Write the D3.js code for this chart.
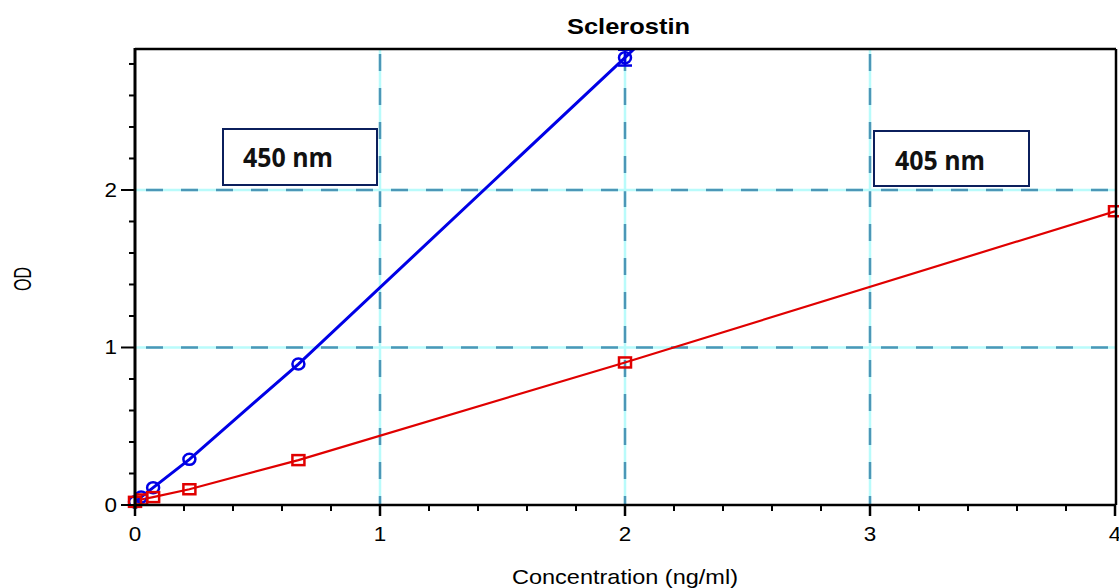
<!DOCTYPE html>
<html><head><meta charset="utf-8">
<script src="https://cdn.jsdelivr.net/npm/d3@7"></script>
<style>body{margin:0;background:#fff;} svg{display:block;}</style>
</head><body>
<svg id="c" width="1119" height="588"></svg>
<script>
// Data
const concentrations = [0, 0.025, 0.074, 0.222, 0.667, 2, 4];
const od450 = [0.02, 0.05, 0.11, 0.29, 0.895, 2.84];           // blue, 450 nm (first 6 concentrations)
const od450Err = [0, 0, 0, 0, 0, 0.05];
const od405 = [0.02, 0.035, 0.05, 0.10, 0.285, 0.905, 1.865];   // red, 405 nm
const fit450X = [0, 0.025, 0.074, 0.222, 0.667, 2, 2.06];
const fit450Y = [0.02, 0.05, 0.11, 0.29, 0.895, 2.84, 2.93];
const xTicks = [0, 1, 2, 3, 4];
const yTicks = [0, 1, 2];
const labels = ["450 nm", "405 nm"];

const svg = d3.select("#c");
const L = 135, R = 1115, T = 49, B = 505;
const x = d3.scaleLinear().domain([0, 4]).range([L, R]);
const y = d3.scaleLinear().domain([0, 2.895]).range([B, T]);

svg.append("defs").append("clipPath").attr("id", "clip")
  .append("rect").attr("x", L).attr("y", T).attr("width", R - L).attr("height", B - T);

// grid lines
const grid = svg.append("g");
[1, 2, 3].forEach(v => {
  grid.append("line").attr("x1", x(v)).attr("x2", x(v)).attr("y1", T).attr("y2", B)
    .attr("stroke", "#b9fbfb").attr("stroke-width", 2.5);
  grid.append("line").attr("x1", x(v)).attr("x2", x(v)).attr("y1", B).attr("y2", T)
    .attr("stroke", "#4b97b7").attr("stroke-width", 2.5).attr("stroke-dasharray", "17,17").attr("stroke-dashoffset", 8);
});
[1, 2].forEach(v => {
  grid.append("line").attr("x1", L).attr("x2", R).attr("y1", y(v)).attr("y2", y(v))
    .attr("stroke", "#b9fbfb").attr("stroke-width", 2.5);
  grid.append("line").attr("x1", L).attr("x2", R).attr("y1", y(v)).attr("y2", y(v))
    .attr("stroke", "#4b97b7").attr("stroke-width", 2.5).attr("stroke-dasharray", "17,18").attr("stroke-dashoffset", -11);
});

// legend boxes
const boxes = [
  {t: labels[0], x0: 223, y0: 129, w: 154, h: 56, tx: 243, ty: 167},
  {t: labels[1], x0: 874, y0: 131, w: 155, h: 55, tx: 895, ty: 170}
];
boxes.forEach(b => {
  svg.append("rect").attr("x", b.x0).attr("y", b.y0).attr("width", b.w).attr("height", b.h)
    .attr("fill", "#fff").attr("stroke", "#0b1f5c").attr("stroke-width", 2);
  svg.append("text").attr("x", b.tx).attr("y", b.ty).text(b.t)
    .attr("font-family", "Open Sans, Lato, sans-serif").attr("font-weight", "bold")
    .attr("font-size", 26).attr("fill", "#111")
    .attr("textLength", 90).attr("lengthAdjust", "spacingAndGlyphs");
});

const plot = svg.append("g").attr("clip-path", "url(#clip)");

// red line + blue fit
const line = d3.line().x(d => x(d[0])).y(d => y(d[1]));
plot.append("path").datum(concentrations.map((c, i) => [c, od405[i]]))
  .attr("d", line).attr("fill", "none").attr("stroke", "#e00000").attr("stroke-width", 2.2);
plot.append("path").datum(fit450X.map((c, i) => [c, fit450Y[i]]))
  .attr("d", line).attr("fill", "none").attr("stroke", "#0000e6").attr("stroke-width", 3);

// blue error bars
od450.forEach((v, i) => {
  const e = od450Err[i];
  if (!e) return;
  const cx = x(concentrations[i]);
  plot.append("line").attr("x1", cx).attr("x2", cx).attr("y1", y(v - e)).attr("y2", y(v + e))
    .attr("stroke", "#0000e6").attr("stroke-width", 2.5);
  [v - e, v + e].forEach(w => plot.append("line").attr("x1", cx - 7).attr("x2", cx + 7)
    .attr("y1", y(w)).attr("y2", y(w)).attr("stroke", "#0000e6").attr("stroke-width", 2.5));
});
// blue circles
svg.append("g").selectAll("ellipse").data(od450).join("ellipse")
  .attr("cx", (d, i) => x(concentrations[i])).attr("cy", d => y(d)).attr("rx", 6).attr("ry", 5.5)
  .attr("fill", "none").attr("stroke", "#0000e6").attr("stroke-width", 2.5);
// red squares
svg.append("g").selectAll("rect").data(od405).join("rect")
  .attr("x", (d, i) => x(concentrations[i]) - 6).attr("y", d => y(d) - 5)
  .attr("width", 12).attr("height", 10)
  .attr("fill", "none").attr("stroke", "#e00000").attr("stroke-width", 2.5);

// axes
const font = "Arial, Liberation Sans, sans-serif";
const xMinor = d3.range(0, 4.0001, 0.2);
const yMinor = d3.range(0, 2.8001, 0.2);
const ax = svg.append("g");
xMinor.forEach(v => {
  const major = Math.abs(v - Math.round(v)) < 1e-6;
  ax.append("line").attr("x1", x(v)).attr("x2", x(v)).attr("y1", B).attr("y2", B + (major ? 11 : 6))
    .attr("stroke", "#000").attr("stroke-width", major ? 2.5 : 2);
});
yMinor.forEach(v => {
  const major = Math.abs(v - Math.round(v)) < 1e-6;
  ax.append("line").attr("x1", L - (major ? 14 : 6)).attr("x2", L).attr("y1", y(v)).attr("y2", y(v))
    .attr("stroke", "#000").attr("stroke-width", 2);
});
// frame
ax.append("line").attr("x1", L).attr("x2", R + 1).attr("y1", B).attr("y2", B).attr("stroke", "#000").attr("stroke-width", 2.5);
ax.append("line").attr("x1", L).attr("x2", L).attr("y1", T - 1).attr("y2", B + 4).attr("stroke", "#000").attr("stroke-width", 3);
ax.append("line").attr("x1", L).attr("x2", R + 1).attr("y1", T).attr("y2", T).attr("stroke", "#000").attr("stroke-width", 2.5);
ax.append("line").attr("x1", R + 1).attr("x2", R + 1).attr("y1", T).attr("y2", B).attr("stroke", "#000").attr("stroke-width", 2.5);

ax.selectAll(".xt").data(xTicks).join("text").attr("class", "xt")
  .attr("x", d => x(d)).attr("y", 541).attr("text-anchor", "middle").text(d => d)
  .attr("font-family", font).attr("font-size", 19.5)
  .attr("textLength", 12.5).attr("lengthAdjust", "spacingAndGlyphs");
ax.selectAll(".yt").data(yTicks).join("text").attr("class", "yt")
  .attr("x", 117).attr("y", d => y(d) + 7).attr("text-anchor", "end").text(d => d)
  .attr("font-family", font).attr("font-size", 19.5)
  .attr("textLength", 12.5).attr("lengthAdjust", "spacingAndGlyphs");

svg.append("text").attr("x", 625).attr("y", 584).attr("text-anchor", "middle")
  .text("Concentration (ng/ml)").attr("font-family", font).attr("font-size", 21)
  .attr("textLength", 226).attr("lengthAdjust", "spacingAndGlyphs");
svg.append("text").attr("transform", "translate(31,279) scale(1.55,1) rotate(-90)").attr("text-anchor", "middle")
  .text("OD").attr("font-family", font).attr("font-size", 16);
svg.append("text").attr("x", 628.5).attr("y", 34).attr("text-anchor", "middle")
  .text("Sclerostin").attr("font-family", font).attr("font-weight", "bold").attr("font-size", 21.5)
  .attr("textLength", 123).attr("lengthAdjust", "spacingAndGlyphs");
</script>
</body></html>
